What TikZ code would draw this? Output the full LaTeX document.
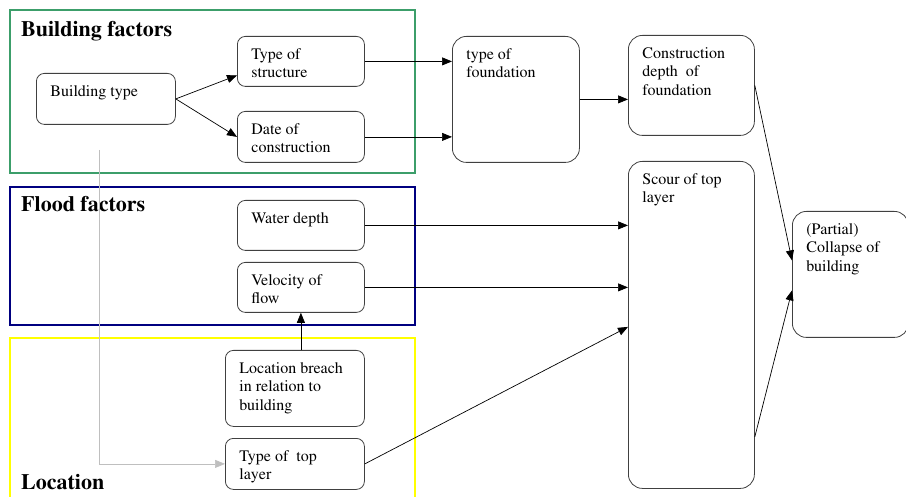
\documentclass[tikz,border=0pt]{standalone}
\usepackage[T1]{fontenc}
\usepackage{times}
\usetikzlibrary{positioning,arrows.meta}
\definecolor{groupgreen}{RGB}{60,158,106}
\definecolor{groupnavy}{RGB}{0,0,128}
\definecolor{groupyellow}{RGB}{255,255,0}
\newcommand{\boxtxt}[3]{\parbox[c][#2pt][t]{#1pt}{\raggedright #3}}
\tikzset{
	factor/.style={draw=black!75,line width=0.8pt,rounded corners=8pt,inner xsep=14pt,inner ysep=12pt,anchor=north west,font=\rmfamily\fontsize{16}{18.5}\selectfont},
	bigfactor/.style={factor,rounded corners=14pt},
	link/.style={-{Triangle[length=10pt,width=8pt]},line width=0.7pt},
	group/.style={line width=2.5pt},
	heading/.style={anchor=base west,inner sep=0pt,font=\rmfamily\fontsize{22}{26}\selectfont\bfseries}
}
\begin{document}
\begin{tikzpicture}[x=1pt,y=-1pt]
\useasboundingbox (0,0) rectangle (906,497);
% groups
\draw[group,groupgreen] (10,10) rectangle (415,173);
\draw[group,groupnavy] (10,187) rectangle (415,325);
\draw[group,groupyellow] (10,338) rectangle (415,505);
\node[heading] (hbuild) at (21,37) {Building factors};
\node[heading] (hflood) at (21,212) {Flood factors};
\node[heading] (hloc) at (21,489) {Location};
% factors
\node[factor] (btype) at (36,73) {\boxtxt{111}{27}{Building type}};
\node[factor] (struct) at (237,36) {\boxtxt{99}{26}{Type of\\structure}};
\node[factor] (date) at (237,111) {\boxtxt{99}{27}{Date of\\construction}};
\node[factor] (water) at (237,200) {\boxtxt{99}{26}{Water depth}};
\node[factor] (veloc) at (237,262) {\boxtxt{99}{26}{Velocity of\\flow}};
\node[factor] (breach) at (225,350) {\boxtxt{111}{52}{Location breach\\in relation to\\building}};
\node[factor] (toplay) at (225,438) {\boxtxt{111}{27}{Type of~ top\\layer}};
% effects
\node[bigfactor] (found) at (452,36) {\boxtxt{99}{102}{type of\\foundation}};
\node[bigfactor] (constr) at (628,35) {\boxtxt{98}{76}{Construction\\depth~ of\\foundation}};
\node[bigfactor] (scour) at (628,161) {\boxtxt{98}{303}{Scour of top\\layer}};
\node[bigfactor] (coll) at (792,211) {\boxtxt{88}{102}{(Partial)\\Collapse of\\building}};
% links
\draw[link] (btype.east)--([yshift=-14pt]struct.west);
\draw[link] (btype.east)--(date.west);
\draw[link] (struct.east)--(struct.east -| found.west);
\draw[link] (date.east)--(date.east -| found.west);
\draw[link] (found.east)--(found.east -| constr.west);
\draw[link] (water.east)--(water.east -| scour.west);
\draw[link] (veloc.east)--(veloc.east -| scour.west);
\draw[link] (toplay.east)--([yshift=-2pt]scour.west);
\draw[link] (breach.north -| veloc.south)--(veloc.south);
\draw[link] (constr.east)--([yshift=14pt]coll.west);
\draw[link] ([yshift=-112pt]scour.east)--([yshift=-16pt]coll.west);
\coordinate (gstart) at (99,150);
\draw[link,black!25] (gstart) |- (toplay.west);
\end{tikzpicture}
\end{document}
